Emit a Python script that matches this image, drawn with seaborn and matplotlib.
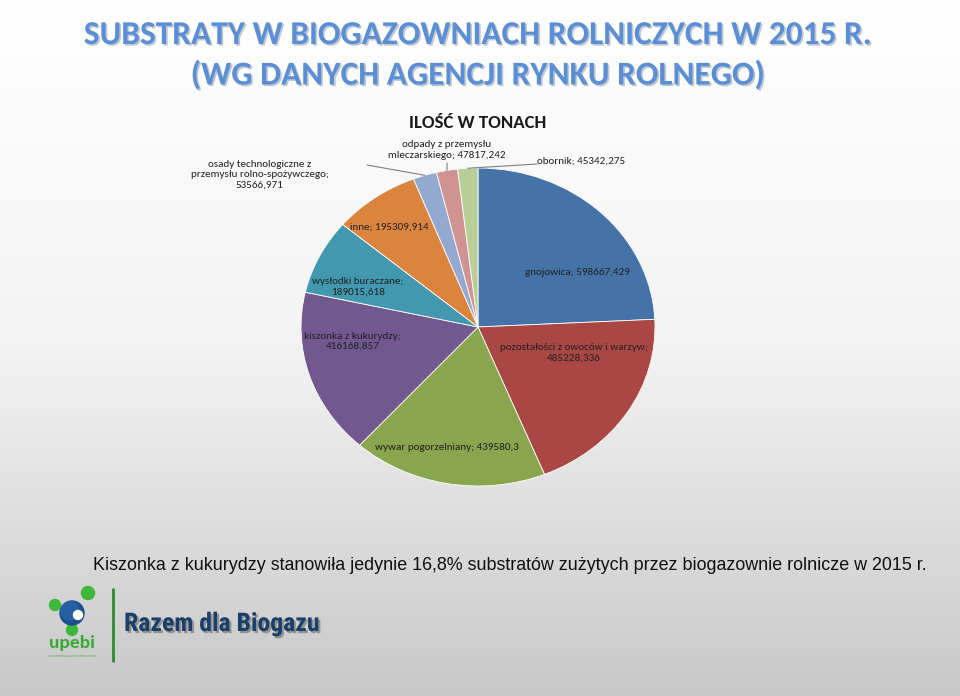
import matplotlib
matplotlib.use("Agg")
import matplotlib.pyplot as plt
import matplotlib.patheffects as pe
from matplotlib.colors import LinearSegmentedColormap
from matplotlib.patches import Circle
import numpy as np
import seaborn as sns

# ---------------- data ----------------
categories = ["gnojowica", "pozostałości z owoców i warzyw", "wywar pogorzelniany",
              "kiszonka z kukurydzy", "wysłodki buraczane", "inne",
              "osady technologiczne z przemysłu rolno-spożywczego",
              "odpady z przemysłu mleczarskiego", "obornik"]
values = [598667.429, 485228.336, 439580.3, 416168.857, 189015.618, 195309.914,
          53566.971, 47817.242, 45342.275]
label_texts = ["gnojowica; 598667,429",
               "pozostałości z owoców i warzyw;\n485228,336",
               "wywar pogorzelniany; 439580,3",
               "kiszonka z kukurydzy;\n416168,857",
               "wysłodki buraczane;\n189015,618",
               "inne; 195309,914",
               "osady technologiczne z\nprzemysłu rolno-spożywczego;\n53566,971",
               "odpady z przemysłu\nmleczarskiego; 47817,242",
               "obornik; 45342,275"]
slice_colors = ["#4572A7", "#AA4643", "#89A54E", "#71588F", "#4198AF",
                "#DB843D", "#93A9CF", "#D19392", "#B9CD96"]

title_lines = ["SUBSTRATY W BIOGAZOWNIACH ROLNICZYCH W 2015 R.",
               "(WG DANYCH AGENCJI RYNKU ROLNEGO)"]
chart_title = "ILOŚĆ W TONACH"
caption = "Kiszonka z kukurydzy stanowiła jedynie 16,8% substratów zużytych przez biogazownie rolnicze w 2015 r."

# ---------------- layout (label positions in pie-axes units) ----------------
label_pos = [(0.56, 0.34), (0.54, -0.16), (-0.175, -0.755), (-0.71, -0.09),
             (-0.68, 0.25), (-0.50, 0.63), (-1.232, 0.956), (-0.175, 1.113),
             (0.333, 1.044)]
label_ha = ["center"] * 8 + ["left"]
leader_start = {6: (-0.627, 1.019), 7: (-0.175, 1.031), 8: (0.333, 1.025)}

sns.set_theme(style="white")
plt.rcParams["font.family"] = ["Carlito", "DejaVu Sans"]

W, H = 960, 696
fig = plt.figure(figsize=(W / 100, H / 100), dpi=100)

# background gradient
bg = fig.add_axes([0, 0, 1, 1])
bg.set_zorder(0)
grad = np.linspace(0, 1, 256).reshape(-1, 1)
cmap = LinearSegmentedColormap.from_list("bg", ["#ffffff", "#f3f3f3", "#c8c8c8"])
bg.imshow(grad, aspect="auto", cmap=cmap, extent=[0, 1, 0, 1], origin="upper")
bg.axis("off")

# overlay in pixel coordinates
ov = fig.add_axes([0, 0, 1, 1])
ov.set_zorder(1)
ov.set_xlim(0, W)
ov.set_ylim(H, 0)
ov.set_facecolor("none")
ov.axis("off")

title_fx = [pe.withSimplePatchShadow(offset=(1.2, -1.2), shadow_rgbFace="#9aa6b5", alpha=0.6)]
for txt, yy in zip(title_lines, [35, 75]):
    ov.text(478, yy, txt, ha="center", va="center", fontsize=24, fontweight="bold",
            color="#5A8ED6", family=["Carlito", "DejaVu Sans"], path_effects=title_fx)

ov.text(478, 123, chart_title, ha="center", va="center", fontsize=13.5,
        fontweight="bold", color="#1a1a1a", family=["Carlito", "DejaVu Sans"])

ov.text(510, 565, caption, ha="center", va="center", fontsize=12.9, color="#111111",
        family=["Liberation Sans", "DejaVu Sans"])

# logo
green = "#3DB83A"
ov.add_patch(Circle((55, 605), 5.5, color=green))
ov.add_patch(Circle((88, 593), 6.5, color=green))
ov.add_patch(Circle((72, 630), 5.5, color=green))
ov.add_patch(Circle((72, 613), 12, color="#1D4F8C"))
ov.add_patch(Circle((70, 611), 9, color="#2B6DB3", alpha=0.6))
ov.add_patch(Circle((78, 615), 4.5, color="#ffffff"))
ov.text(72, 643, "upebi", ha="center", va="center", fontsize=14, fontweight="bold",
        color="#3AAA35", family=["Carlito", "DejaVu Sans"])
ov.text(72, 656, "Unia Producentów i Pracodawców Przemysłu Biogazu\nUnion of Producers and Employers of Biogas Industry",
        ha="center", va="center", fontsize=1.6, color="#3AAA35", linespacing=1.2)
ov.plot([113, 113], [588, 662], color="#2E8B2E", lw=2, solid_capstyle="butt")
ov.text(124, 624, "Razem dla Biogazu", ha="left", va="center", fontsize=18.5,
        fontweight="bold", color="#1B3F6B",
        family=["Roboto Condensed", "Carlito", "DejaVu Sans"],
        path_effects=[pe.withSimplePatchShadow(offset=(1.5, -1.5), shadow_rgbFace="#555555", alpha=0.5)])

# pie
cx, cy, rx, ry = 478, 327, 177, 159
ax = fig.add_axes([(cx - rx) / W, (H - cy - ry) / H, 2 * rx / W, 2 * ry / H])
ax.set_zorder(2)
ax.set_facecolor("none")
palette = sns.color_palette(slice_colors)
wedges, _ = ax.pie(values, colors=palette, startangle=90, counterclock=False,
                   radius=1, wedgeprops=dict(edgecolor="white", linewidth=0.6))
ax.set_xlim(-1, 1)
ax.set_ylim(-1, 1)
ax.set_aspect("auto")
ax.axis("off")

total = sum(values)
cum = np.cumsum([0] + values)
for i, (txt, (x, y), ha) in enumerate(zip(label_texts, label_pos, label_ha)):
    ax.text(x, y, txt, ha=ha, va="center", multialignment="center", fontsize=8,
            color="#222222", clip_on=False, linespacing=1.22)
    if i in leader_start:
        mid = (cum[i] + cum[i + 1]) / 2 / total * 2 * np.pi
        edge = (np.sin(mid), np.cos(mid))
        ax.annotate("", xy=edge, xytext=leader_start[i],
                    arrowprops=dict(arrowstyle="-", color="#7f7f7f", lw=0.8,
                                    shrinkA=0, shrinkB=0), annotation_clip=False)

fig.savefig("out.png", dpi=100)
